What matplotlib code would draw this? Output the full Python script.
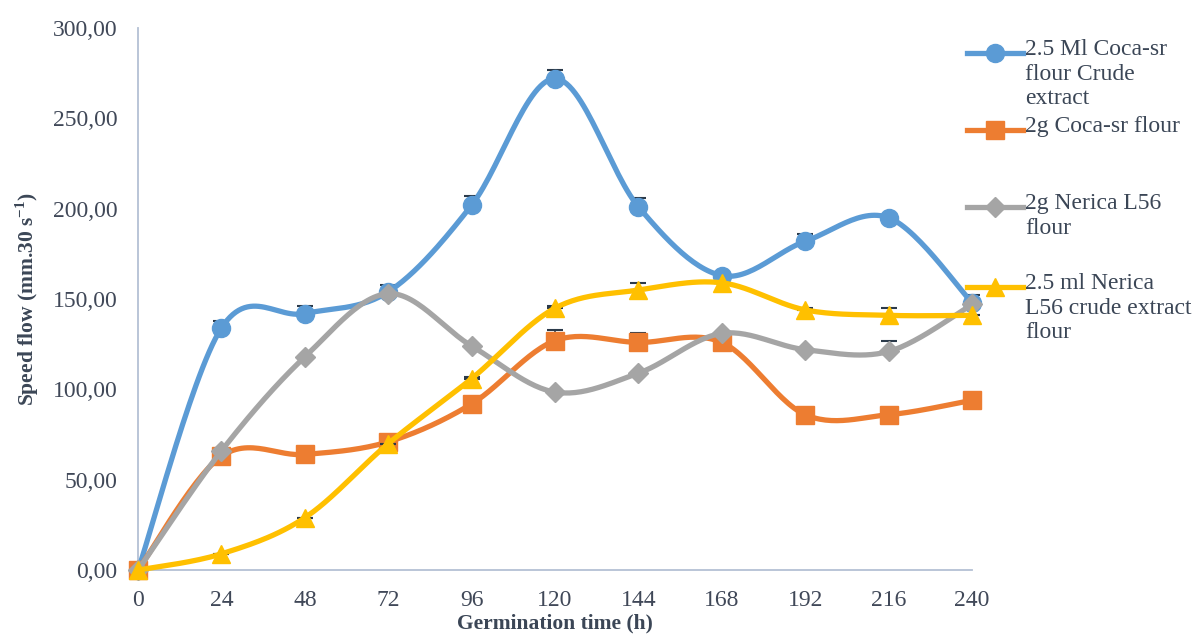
import numpy as np
import matplotlib
matplotlib.use("Agg")
import matplotlib.pyplot as plt
from matplotlib.lines import Line2D
from matplotlib.ticker import FuncFormatter

plt.rcParams['font.family'] = ['Liberation Serif', 'DejaVu Serif']
plt.rcParams['mathtext.fontset'] = 'custom'
plt.rcParams['mathtext.rm'] = 'Liberation Serif'
plt.rcParams['mathtext.bf'] = 'Liberation Serif:bold'

# Data
hours = [0, 24, 48, 72, 96, 120, 144, 168, 192, 216, 240]
coca_extract = [0, 134, 142, 154, 202, 272, 201, 163, 182, 195, 148]
coca_flour = [0, 63, 64, 71, 92, 127, 126, 126, 86, 86, 94]
nerica_flour = [0, 66, 118, 153, 124, 98.5, 109, 131, 122, 121, 147]
nerica_extract = [0, 9, 29, 70, 106, 145, 155, 159, 144, 141, 141]

coca_extract_err = [0, 4, 4, 4, 5, 5, 5, 0, 4, 0, 4]
coca_flour_err = [0, 0, 0, 0, 0, 6, 5, 0, 0, 3, 0]
nerica_flour_err = [0, 0, 0, 0, 0, 0, 0, 0, 0, 6, 0]
nerica_extract_err = [0, 0, 0, 0, 1, 1, 4, 0, 1, 4, 0]

labels = ["2.5 Ml Coca-sr\nflour Crude\nextract",
          "2g Coca-sr flour",
          "2g Nerica L56\nflour",
          "2.5 ml Nerica\nL56 crude extract\nflour"]
colors = ["#5B9BD5", "#ED7D31", "#A5A5A5", "#FFC000"]
markers = ["o", "s", "D", "^"]
msizes = [13, 13, 10, 13]


def smooth(x, y, n=30):
    # Catmull-Rom style smoothing like Excel's smoothed line
    x = np.asarray(x, float)
    y = np.asarray(y, float)
    px = np.concatenate([[x[0]], x, [x[-1]]])
    py = np.concatenate([[y[0]], y, [y[-1]]])
    xs, ys = [], []
    t = np.linspace(0, 1, n)
    for i in range(1, len(px) - 2):
        p0, p1, p2, p3 = (np.array([px[j], py[j]]) for j in (i - 1, i, i + 1, i + 2))
        c1 = p1 + (p2 - p0) / 6
        c2 = p2 - (p3 - p1) / 6
        b = ((1 - t) ** 3)[:, None] * p1 + (3 * (1 - t) ** 2 * t)[:, None] * c1 \
            + (3 * (1 - t) * t ** 2)[:, None] * c2 + (t ** 3)[:, None] * p2
        xs.extend(b[:, 0])
        ys.extend(b[:, 1])
    return np.array(xs), np.array(ys)


fig = plt.figure(figsize=(11.95, 6.37), dpi=100)
ax = fig.add_axes([0.1155, 0.105, 0.698, 0.851])

series = [coca_extract, coca_flour, nerica_flour, nerica_extract]
errs = [coca_extract_err, coca_flour_err, nerica_flour_err, nerica_extract_err]
for k, (vals, err) in enumerate(zip(series, errs)):
    sx, sy = smooth(hours, vals)
    ax.plot(sx, sy, color=colors[k], lw=3.8, zorder=3 + k, clip_on=False,
            solid_capstyle='round')
    ax.errorbar(hours, vals, yerr=[np.zeros(len(err)), err], fmt='none',
                ecolor='#2B3A4A', elinewidth=1.2, capsize=6, capthick=1.5,
                zorder=2 + k, clip_on=False)
    ax.plot(hours, vals, linestyle='none', marker=markers[k], ms=msizes[k],
            color=colors[k], zorder=3.5 + k, clip_on=False)

ax.set_xlim(0, 240)
ax.set_ylim(0, 300)
ax.set_xticks(hours)
ax.set_yticks(np.arange(0, 301, 50))
ax.yaxis.set_major_formatter(FuncFormatter(lambda v, p: f"{v:.2f}".replace('.', ',')))
ax.tick_params(length=0, labelsize=17, labelcolor='#404858')
ax.tick_params(axis='x', pad=14)
ax.tick_params(axis='y', pad=15)
for s in ['top', 'right']:
    ax.spines[s].set_visible(False)
for s in ['left', 'bottom']:
    ax.spines[s].set_color('#B4C0D4')
    ax.spines[s].set_linewidth(1.3)

ax.set_xlabel("Germination time (h)", fontsize=15.5, fontweight='bold',
              color='#3B4656', labelpad=2)
ax.set_ylabel(r"Speed flow (mm.30 s$^{\mathbf{-1}}$)", fontsize=15.5,
              fontweight='bold', color='#3B4656', labelpad=8)

# Legend, drawn to the right with markers aligned to the first text line
legend_y = [53, 130, 207, 287]
W, H = 1195, 637
for k in range(4):
    yf = 1 - legend_y[k] / H
    fig.add_artist(Line2D([967 / W, 1023 / W], [yf, yf], color=colors[k], lw=3.8,
                          transform=fig.transFigure))
    fig.add_artist(Line2D([995 / W], [yf], color=colors[k], marker=markers[k],
                          ms=msizes[k], transform=fig.transFigure))
    fig.text(1025 / W, yf + 14 / H, labels[k], fontsize=17, color='#3B4656',
             va='top', ha='left', linespacing=1.22, transform=fig.transFigure)

fig.savefig("out.png", dpi=100)
